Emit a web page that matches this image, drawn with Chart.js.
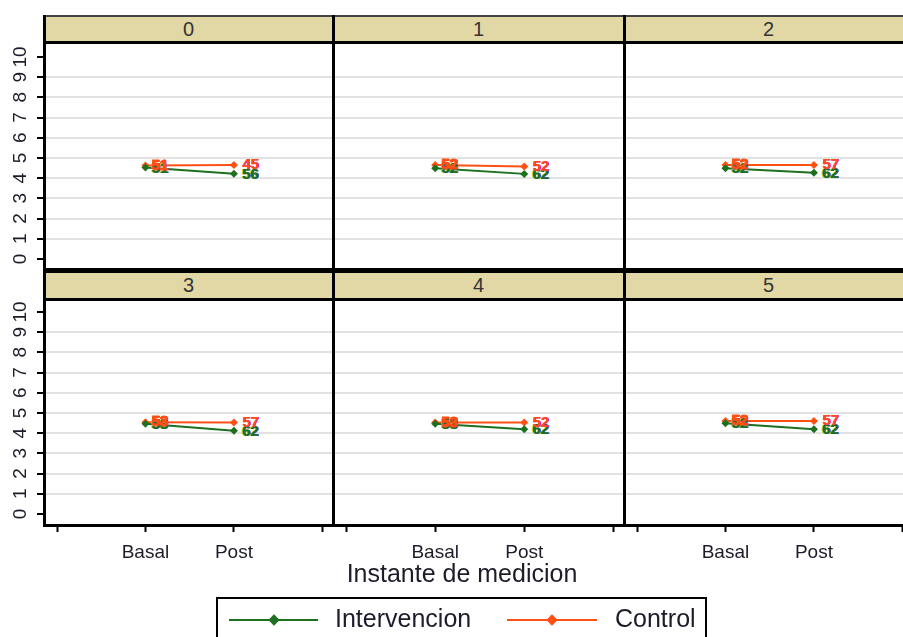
<!DOCTYPE html>
<html><head><meta charset="utf-8">
<script src="https://cdn.jsdelivr.net/npm/chart.js@4.4.0/dist/chart.umd.min.js"></script>
<style>
html,body{margin:0;padding:0;background:#fff;overflow:hidden;width:903px;height:637px;}
#wrap{position:relative;width:903px;height:637px;overflow:hidden;font-family:"Liberation Sans",Arial,sans-serif;background:#fff;}
.hdr{position:absolute;background:#e2d8a6;text-align:center;color:#333;font-size:20px;}
.ln{position:absolute;background:#000;}
canvas{display:block;position:absolute;}
.txt{position:absolute;white-space:nowrap;color:#1c1c2a;}
</style></head>
<body><div id="wrap"></div>
<script>
// ---- data ----
const panelTitles = ["0","1","2","3","4","5"];
const xCategories = ["Basal","Post"];
const xCategoryPos = [1,2];
const xTickValues = [0,1,2,3];
const xTickLabels = ["","Basal","Post",""];
const yTickValues = [0,1,2,3,4,5,6,7,8,9,10];
const yTickLabels = ["0","1","2","3","4","5","6","7","8","9","10"];
const seriesNames = ["Intervencion","Control"];
const intervencionBasal = [4.52,4.49,4.49,4.46,4.46,4.49];
const intervencionPost  = [4.22,4.21,4.27,4.12,4.19,4.19];
const controlBasal      = [4.62,4.65,4.65,4.54,4.52,4.60];
const controlPost       = [4.65,4.57,4.65,4.52,4.52,4.60];
const intervencionBasalLabel = ["51","52","52","53","53","52"];
const intervencionPostLabel  = ["56","62","62","62","62","62"];
const controlBasalLabel      = ["51","52","52","53","53","52"];
const controlPostLabel       = ["45","52","57","57","52","57"];
const xTitle = "Instante de medicion";

// ---- styles / layout ----
const GREEN = '#1d701d';
const ORANGE = '#ff5014';
const FAMILY = '"Liberation Sans", Arial, sans-serif';
const cols = [{x:44,w:289},{x:333,w:291},{x:624,w:289}];
const rows = [
  {hTop:15, hBot:43, top:44, bottom:268, ymin:-0.45, ymax:10.64},
  {hTop:272, hBot:299, top:301, bottom:524, ymin:-0.5, ymax:10.54}
];
const wrap = document.getElementById('wrap');
function el(tag, cls, css, text){
  const e=document.createElement(tag); if(cls) e.className=cls;
  Object.assign(e.style, css); if(text!==undefined) e.textContent=text;
  wrap.appendChild(e); return e;
}

const labelPlugin = {
  id:'ptLabels',
  afterDatasetsDraw(chart){
    const p = chart.$panel;
    const ctx = chart.ctx;
    const mi = chart.getDatasetMeta(0), mc = chart.getDatasetMeta(1);
    ctx.save();
    ctx.font = 'bold 15px ' + FAMILY;
    ctx.textBaseline = 'middle';
    ctx.textAlign = 'left';
    const iLab = [intervencionBasalLabel[p], intervencionPostLabel[p]];
    const cLab = [controlBasalLabel[p], controlPostLabel[p]];
    for(let k=0;k<2;k++){
      const off = k===0 ? 6 : 8;
      const gp = mi.data[k], op = mc.data[k];
      ctx.fillStyle = '#d8d820'; ctx.fillText(iLab[k], gp.x+off-1, gp.y+1);
      ctx.fillStyle = '#2a5bd7'; ctx.fillText(iLab[k], gp.x+off+1, gp.y+1);
      ctx.fillStyle = GREEN; ctx.fillText(iLab[k], gp.x+off, gp.y+1);
      ctx.fillStyle = '#e020c0'; ctx.fillText(cLab[k], op.x+off+1, op.y);
      ctx.fillStyle = ORANGE; ctx.strokeStyle = ORANGE; ctx.lineWidth = 1;
      ctx.fillText(cLab[k], op.x+off, op.y);
      if(k===0) ctx.strokeText(cLab[k], op.x+off, op.y);
    }
    ctx.restore();
  }
};
const yLabelPlugin = {
  id:'yRotLabels',
  afterDraw(chart){
    if(chart.$col!==0) return;
    const s = chart.scales.y, ctx = chart.ctx;
    ctx.save();
    ctx.font = '19px ' + FAMILY;
    ctx.fillStyle = '#1c1c2a';
    ctx.textAlign = 'center'; ctx.textBaseline = 'middle';
    yTickValues.forEach((v,i)=>{
      const py = s.getPixelForValue(v);
      ctx.save(); ctx.translate(20, py); ctx.rotate(-Math.PI/2);
      ctx.fillText(yTickLabels[i], 0, 1); ctx.restore();
    });
    ctx.restore();
  }
};

for(let p=0;p<6;p++){
  const r = rows[Math.floor(p/3)], c = p%3, col = cols[c];
  const isBottom = p>=3;
  el('div','hdr',{left:col.x+'px', top:r.hTop+'px', width:col.w+'px', height:(r.hBot-r.hTop)+'px', lineHeight:(r.hBot-r.hTop)+'px'}, panelTitles[p]);
  const cv = document.createElement('canvas');
  const left = c===0 ? 0 : col.x;
  const width = c===0 ? col.x+col.w : col.w;
  const height = (r.bottom-r.top) + (isBottom?42:0);
  cv.width = width; cv.height = height;
  Object.assign(cv.style,{left:left+'px', top:r.top+'px', width:width+'px', height:height+'px'});
  wrap.appendChild(cv);
  const ch = new Chart(cv.getContext('2d'), {
    type:'line',
    data:{datasets:[
      {label:seriesNames[0], data:[{x:xCategoryPos[0],y:intervencionBasal[p]},{x:xCategoryPos[1],y:intervencionPost[p]}],
       borderColor:GREEN, backgroundColor:GREEN, pointStyle:'rectRot', pointRadius:4, pointBorderWidth:0, borderWidth:2, tension:0},
      {label:seriesNames[1], data:[{x:xCategoryPos[0],y:controlBasal[p]},{x:xCategoryPos[1],y:controlPost[p]}],
       borderColor:ORANGE, backgroundColor:ORANGE, pointStyle:'rectRot', pointRadius:4, pointBorderWidth:0, borderWidth:2, tension:0}
    ]},
    options:{
      animation:false, responsive:false, devicePixelRatio:1,
      layout:{padding:0, autoPadding:false},
      plugins:{legend:{display:false}, tooltip:{enabled:false}},
      scales:{
        x:{type:'linear', min:-0.147, max:3.12,
          afterBuildTicks:s=>{s.ticks = xTickValues.map(v=>({value:v}));},
          afterFit:s=>{s.height = isBottom?42:0;},
          ticks:{display:isBottom, autoSkip:false, maxRotation:0, minRotation:0, padding:9,
            callback:(v)=>{const i=xTickValues.indexOf(v); return i<0?'':xTickLabels[i];},
            font:{size:19, family:FAMILY}, color:'#1c1c2a'},
          grid:{display:isBottom, drawOnChartArea:false, drawTicks:true, tickLength:8, tickColor:'#000', tickWidth:2},
          border:{display:false}},
        y:{type:'linear', min:r.ymin, max:r.ymax,
          afterBuildTicks:s=>{s.ticks = yTickValues.map(v=>({value:v}));},
          afterFit:s=>{s.width = c===0?44:0;},
          ticks:{display:false},
          grid:{color:(ctx)=> (ctx.tick && (ctx.tick.value===0 || ctx.tick.value===10)) ? 'rgba(0,0,0,0)' : '#e2e2e2',
            lineWidth:2, drawTicks:c===0, tickLength:7, tickColor:'#000', tickWidth:2},
          border:{display:false}}
      }
    },
    plugins:[labelPlugin, yLabelPlugin]
  });
  ch.$panel = p; ch.$col = c;
  ch.update('none');
}

// frame lines
el('div','ln',{left:'44px', top:'15px', width:'870px', height:'2px', background:'#444'});
el('div','ln',{left:'43px', top:'41px', width:'870px', height:'3px'});
el('div','ln',{left:'43px', top:'268px', width:'870px', height:'5px'});
el('div','ln',{left:'43px', top:'298px', width:'870px', height:'3px'});
el('div','ln',{left:'43px', top:'524px', width:'870px', height:'3px'});
el('div','ln',{left:'43px', top:'15px', width:'3px', height:'512px'});
el('div','ln',{left:'332px', top:'15px', width:'3px', height:'512px'});
el('div','ln',{left:'623px', top:'15px', width:'3px', height:'512px'});

// axis title
el('div','txt',{left:'262px', width:'400px', textAlign:'center', top:'558px', fontSize:'25px', lineHeight:'30px'}, xTitle);

// legend
el('div','',{position:'absolute', left:'216px', top:'597px', width:'487px', height:'60px', border:'2px solid #000'});
const legendItems = [{name:seriesNames[0], color:GREEN, x1:229, x2:318, tx:335},{name:seriesNames[1], color:ORANGE, x1:507, x2:597, tx:615}];
legendItems.forEach(it=>{
  el('div','',{position:'absolute', left:it.x1+'px', top:'619px', width:(it.x2-it.x1)+'px', height:'2px', background:it.color});
  const cx=(it.x1+it.x2)/2;
  el('div','',{position:'absolute', left:(cx-4)+'px', top:'616px', width:'8px', height:'8px', background:it.color, transform:'rotate(45deg)'});
  el('div','txt',{left:it.tx+'px', top:'603px', fontSize:'25px', lineHeight:'31px'}, it.name);
});
</script>
</body></html>
